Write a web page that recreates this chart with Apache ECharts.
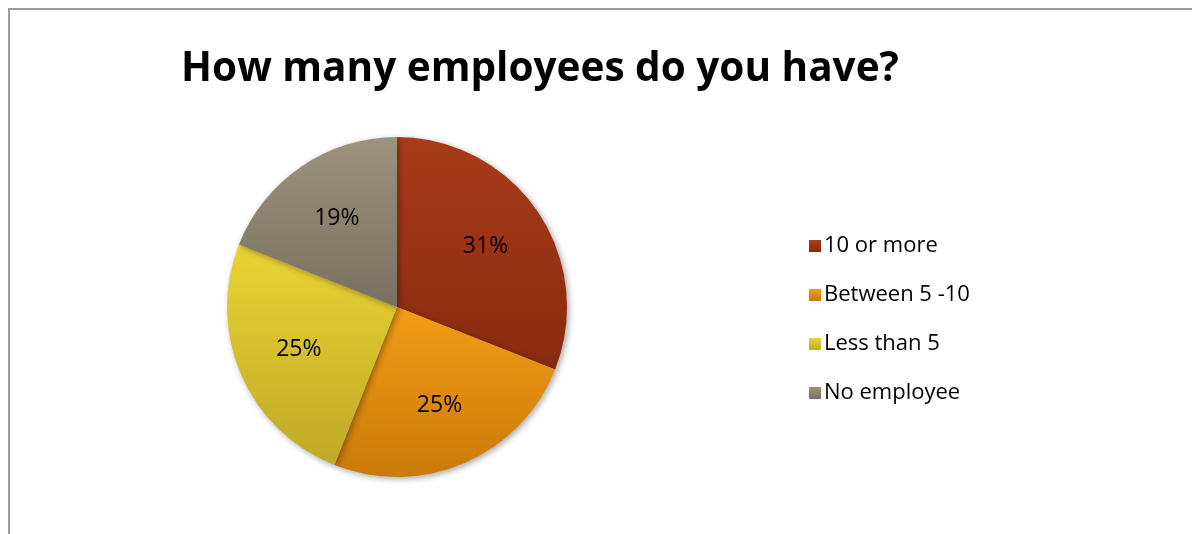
<!DOCTYPE html>
<html>
<head>
<meta charset="utf-8">
<script src="https://cdn.jsdelivr.net/npm/echarts@6/dist/echarts.min.js"></script>
<style>
  html, body { margin: 0; padding: 0; background: #fff; }
  #chart { width: 1192px; height: 534px; }
</style>
</head>
<body>
<div id="chart"></div>
<script>
// Survey answers: company size
const categories = ['10 or more', 'Between 5 -10', 'Less than 5', 'No employee'];
const shares = [31, 25, 25, 19];
// top / bottom shade for each slice
const topColors = ['#A83C19', '#F39C17', '#E9D434', '#9E927C'];
const bottomColors = ['#892A0F', '#C97A08', '#C0A927', '#787060'];

const FONT = '"Open Sans", "Liberation Sans", sans-serif';

function shade(i) {
  return new echarts.graphic.LinearGradient(0, 0, 0, 1, [
    { offset: 0, color: topColors[i] },
    { offset: 1, color: bottomColors[i] }
  ]);
}

const pieData = categories.map((name, i) => ({
  name,
  value: shares[i],
  itemStyle: { color: shade(i) }
}));

const chart = echarts.init(document.getElementById('chart'), null, { renderer: 'canvas' });

chart.setOption({
  animation: false,
  backgroundColor: '#ffffff',
  title: {
    text: 'How many employees do you have?',
    left: 535,
    textAlign: 'center',
    top: 44,
    textStyle: { fontFamily: FONT, fontWeight: 'bold', fontSize: 40.5, color: '#000' }
  },
  legend: {
    orient: 'vertical',
    left: 804,
    top: 230,
    itemWidth: 12,
    itemHeight: 12,
    itemGap: 27,
    icon: 'rect',
    data: categories,
    textStyle: { fontFamily: FONT, fontSize: 22, color: '#000', padding: [0, 0, 0, -2] }
  },
  graphic: [{
    type: 'polyline',
    silent: true,
    shape: { points: [[9, 540], [9, 9], [1200, 9]] },
    style: { stroke: '#9c9c9c', lineWidth: 2, fill: null }
  }],
  series: [
    {
      type: 'pie',
      center: [397, 307],
      radius: [0, 170],
      startAngle: 90,
      clockwise: true,
      silent: true,
      label: { show: false },
      labelLine: { show: false },
      itemStyle: {
        borderWidth: 0,
        shadowBlur: 6,
        shadowOffsetX: 2,
        shadowOffsetY: 2,
        shadowColor: 'rgba(0,0,0,0.35)'
      },
      data: pieData
    },
    {
      // transparent ring used to place the percentage labels
      type: 'pie',
      center: [397, 307],
      radius: [38, 170],
      startAngle: 90,
      clockwise: true,
      silent: true,
      legendHoverLink: false,
      itemStyle: { color: 'rgba(0,0,0,0)', borderWidth: 0 },
      label: {
        show: true,
        position: 'inside',
        formatter: p => p.value + '%',
        fontFamily: FONT,
        fontSize: 23,
        color: '#000'
      },
      labelLine: { show: false },
      data: categories.map((name, i) => ({ name: name + ' ', value: shares[i] }))
    }
  ]
});
</script>
</body>
</html>
